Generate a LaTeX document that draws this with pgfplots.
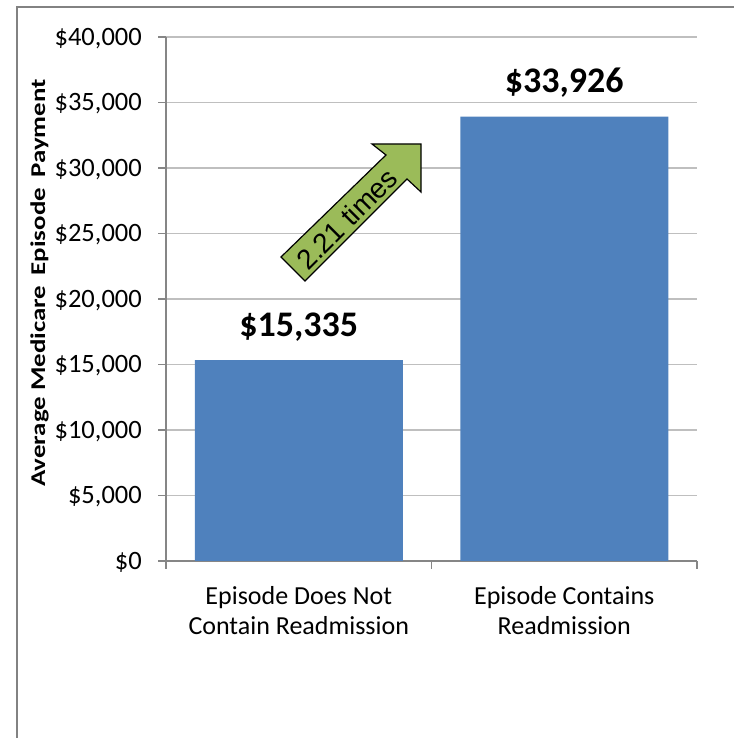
\documentclass[border=0pt]{standalone}
\usepackage{pgfplots}
\pgfplotsset{compat=1.18}
\usepackage{fontspec}
\setmainfont{Carlito}
\newfontfamily\arialfont{Liberation Sans}
\definecolor{barblue}{HTML}{4F81BD}
\definecolor{arrowgreen}{HTML}{9BBB59}
\definecolor{gridgray}{HTML}{BFBFBF}
\definecolor{axisgray}{HTML}{868686}
\definecolor{framegray}{HTML}{828282}
\begin{document}
\begin{tikzpicture}[x=1pt,y=1pt]
\path[use as bounding box] (0,0) rectangle (734,738);
\draw[framegray, line width=2pt] (17,0) -- (17,731) -- (734,731);
\begin{axis}[
  at={(166pt,177pt)}, anchor=south west,
  scale only axis, width=531pt, height=524pt,
  ybar, bar width=208pt,
  xmin=-0.5, xmax=1.5, ymin=0, ymax=40000,
  scaled y ticks=false,
  axis x line*=bottom, axis y line*=left,
  axis line style={axisgray, line width=1.3pt},
  tick align=outside,
  major tick length=8pt, minor tick length=8pt,
  tick style={axisgray, line width=1.3pt},
  major x tick style={draw=none},
  xtick={0,1},
  minor xtick={-0.5,0.5,1.5},
  xticklabels={{Episode Does Not\\Contain Readmission},{Episode Contains\\Readmission}},
  xticklabel style={align=center, inner sep=0pt, anchor=north, yshift=-17pt,
    font=\fontsize{26}{30}\selectfont},
  ytick={0,5000,10000,15000,20000,25000,30000,35000,40000},
  yticklabel={\textup{\$\pgfmathprintnumber[assume math mode=true,1000 sep={,},fixed,precision=0]{\tick}}},
  yticklabel style={anchor=base east, inner sep=0pt, xshift=-16pt, yshift=-8.3pt,
    font=\fontsize{26.5}{30}\selectfont},
  ymajorgrids, grid style={gridgray, line width=1.2pt},
  /pgf/number format/assume math mode=true,
  nodes near coords={\$\pgfmathprintnumber[1000 sep={,}, fixed, precision=0]{\pgfplotspointmeta}},
  every node near coord/.append style={anchor=base, yshift=24pt, inner sep=0pt,
    font=\fontsize{36}{40}\selectfont\bfseries, text=black},
  clip=false,
]
\addplot[fill=barblue, draw=none] coordinates {(0,15335) (1,33926)};
\end{axis}
\node[rotate=90, anchor=base, inner sep=0pt, font=\fontsize{21}{24}\selectfont\bfseries]
  at (45,455) {\scalebox{1.28}[1]{Average Medicare\ \,Episode\ \,Payment}};
\draw[black, line width=1.2pt, fill=arrowgreen, line join=miter]
  (421,594) -- (421,546) -- (407,559) -- (305,457) -- (281,481) -- (386,583) -- (372,594) -- cycle;
\node[rotate=45, inner sep=0pt, font=\arialfont\fontsize{28}{28}\selectfont] at (347,519) {2.21 times};
\end{tikzpicture}
\end{document}
